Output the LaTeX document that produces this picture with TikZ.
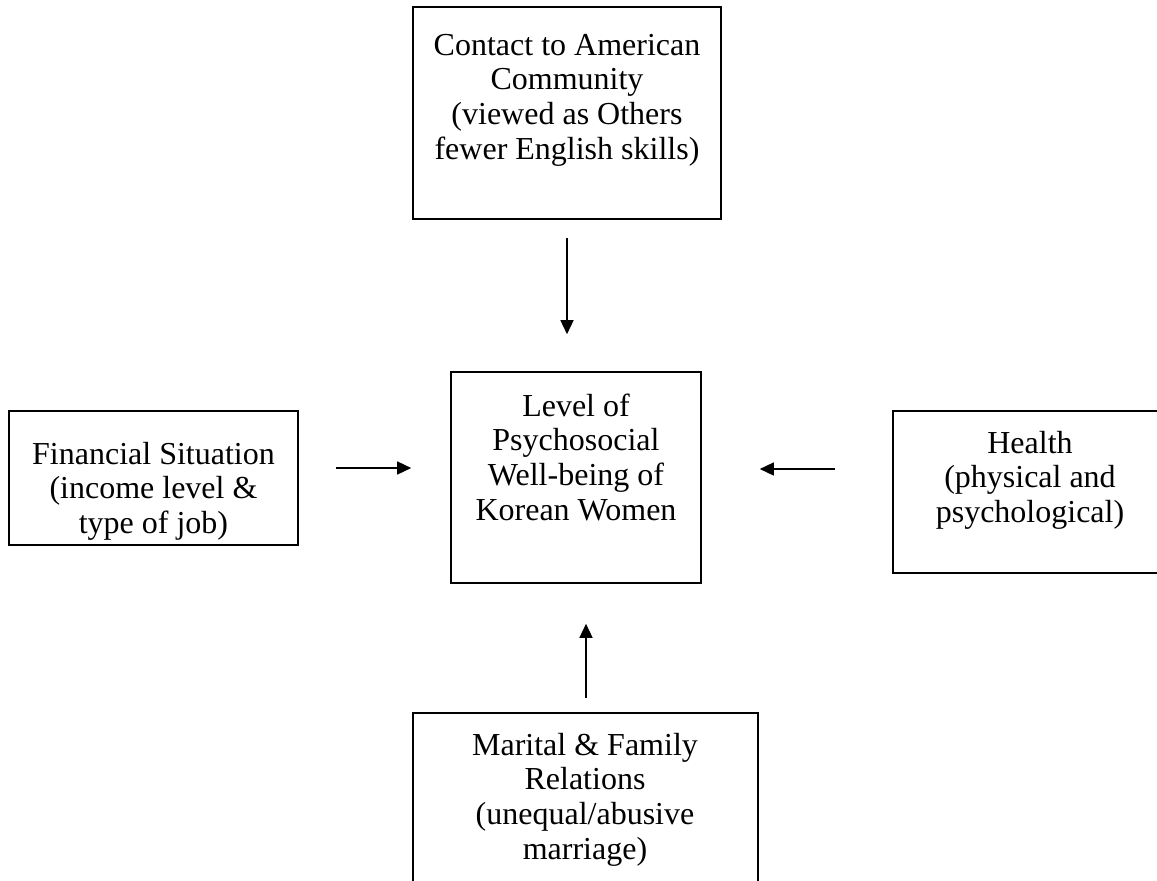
\documentclass[tikz,border=0pt]{standalone}
\usepackage{fontspec}
\setmainfont{Liberation Serif}
\usetikzlibrary{arrows.meta}
\begin{document}
\begin{tikzpicture}[x=1pt,y=-1pt,
  box/.style={draw, line width=1.6pt, inner sep=0pt, rectangle},
  txt/.style={anchor=north, inner sep=0pt, align=center, font=\fontsize{32}{34.7}\selectfont},
  arr/.style={line width=1.5pt, -{Triangle[length=14pt,width=13pt]}}]
\useasboundingbox (0,0) rectangle (1157,881);
\clip (0,0) rectangle (1157,881);
\fill[white] (0,0) rectangle (1157,881);
% boxes
\node[box, minimum width=308pt, minimum height=212pt] (top) at (567,113) {};
\node[box, minimum width=250pt, minimum height=211pt] (mid) at (576,477.5) {};
\node[box, minimum width=289pt, minimum height=134pt] (lft) at (153.5,478) {};
\node[box, minimum width=274pt, minimum height=162pt] (rgt) at (1030,492) {};
\node[box, minimum width=345pt, minimum height=200pt] (bot) at (585.5,813) {};
% texts
\node[txt] (toptxt) at (567,30.7) {\strut Contact to American\\Community\\(viewed as Others\\fewer English skills)};
\node[txt] (midtxt) at (576,391.7) {\strut Level of\\Psychosocial\\Well-being of\\Korean Women};
\node[txt] (lfttxt) at (153.5,439.7) {\strut Financial Situation\\(income level \&\\type of job)};
\node[txt] (rgttxt) at (1030,428.7) {\strut Health\\(physical and\\psychological)};
\node[txt] (bottxt) at (585,730.7) {\strut Marital \& Family\\Relations\\(unequal/abusive\\marriage)};
% arrows
\coordinate (ha) at (0,468);
\coordinate (hb) at (0,469);
\coordinate (vb) at (586,0);
\draw[arr, shorten <=18pt, shorten >=37pt] (top.south) -- (top.south |- mid.north);
\draw[arr, shorten <=37pt, shorten >=39pt] (lft.east |- ha) -- (mid.west |- ha);
\draw[arr, shorten <=57pt, shorten >=58pt] (rgt.west |- hb) -- (mid.east |- hb);
\draw[arr, shorten <=14pt, shorten >=40pt] (vb |- bot.north) -- (vb |- mid.south);
\end{tikzpicture}
\end{document}
